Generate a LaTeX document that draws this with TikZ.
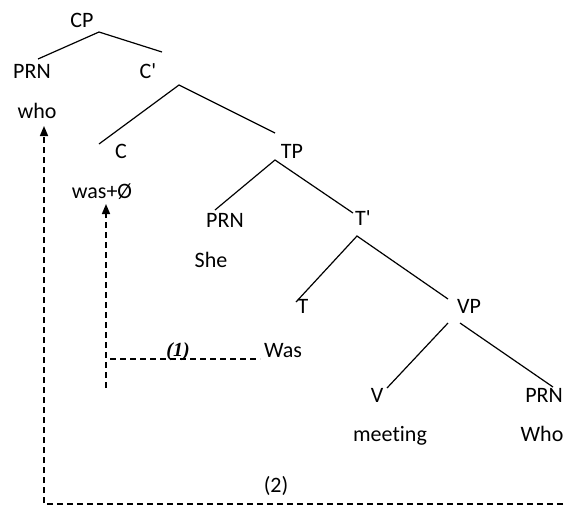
\documentclass[tikz,border=0pt]{standalone}
\usepackage{fontspec}
\newfontfamily\calib{Carlito}[Ligatures=NoCommon]
\newfontfamily\labfont{Liberation Serif}
\usetikzlibrary{arrows.meta}
\begin{document}
\begin{tikzpicture}[x=1pt,y=-1pt,
  lab/.style={anchor=base,inner sep=0pt,font=\calib\fontsize{22}{24}\selectfont},
  branch/.style={line width=1.2pt},
  move/.style={line width=1.5pt,dash pattern=on 6pt off 4pt},
  tip/.style={-{Triangle[length=10pt,width=8pt]}}]
\useasboundingbox (0,0) rectangle (565,507);
% labels
\node[lab] (cp) at (82,27) {CP};
\node[lab] (prn1) at (32,78) {PRN};
\node[lab] (cbar) at (148,78) {C'};
\node[lab] (who1) at (37,118) {who};
\node[lab] (c) at (121,158) {C};
\node[lab] (tp) at (292,158) {TP};
\node[lab] (was0) at (102,198) {was+Ø};
\node[lab] (prn2) at (225,227) {PRN};
\node[lab] (she) at (211,267) {She};
\node[lab] (tbar) at (363,225) {T'};
\node[lab] (t) at (303,313) {T};
\node[lab] (vp) at (469,313) {VP};
\node[lab] (was) at (283,357) {Was};
\node[lab] (v) at (377,402) {V};
\node[lab] (prn3) at (544,402) {PRN};
\node[lab] (meeting) at (390,441) {meeting};
\node[lab] (who2) at (542,441) {Who};
\node[lab] (two) at (276,492) {(2)};
\node[anchor=base,inner sep=0pt,font=\labfont\fontsize{20}{22}\selectfont\bfseries\itshape] (one) at (178,356) {(1)};
% branch points
\coordinate (cpA) at (99,32);  \coordinate (cpL) at (38,59);  \coordinate (cpR) at (162,52);
\coordinate (cbA) at (179,85); \coordinate (cbL) at (99,144); \coordinate (cbR) at (275,133);
\coordinate (tpA) at (275,160); \coordinate (tpL) at (215,210); \coordinate (tpR) at (353,213);
\coordinate (tbA) at (357,236); \coordinate (tbL) at (296,302); \coordinate (tbR) at (448,299);
\coordinate (vpAL) at (448,323); \coordinate (vpL) at (387,388);
\coordinate (vpAR) at (460,323); \coordinate (vpR) at (553,387);
\draw[branch] (cpL) -- (cpA) -- (cpR);
\draw[branch] (cbL) -- (cbA) -- (cbR);
\draw[branch] (tpL) -- (tpA) -- (tpR);
\draw[branch] (tbL) -- (tbA) -- (tbR);
\draw[branch] (vpAL) -- (vpL);
\draw[branch] (vpAR) -- (vpR);
% movement (1)
\coordinate (m1bot) at (106,388);
\coordinate (m1tip) at (106,204);
\coordinate (m1L) at (110,359);
\coordinate (m1R) at (260,359);
\draw[move,tip] (m1bot) -- (m1tip);
\draw[move] (m1L) -- (m1R);
% movement (2)
\coordinate (m2R) at (563,504);
\coordinate (m2C) at (44,504);
\coordinate (m2tip) at (44,126);
\draw[move,tip] (m2R) -- (m2C) -- (m2tip);
\end{tikzpicture}
\end{document}
